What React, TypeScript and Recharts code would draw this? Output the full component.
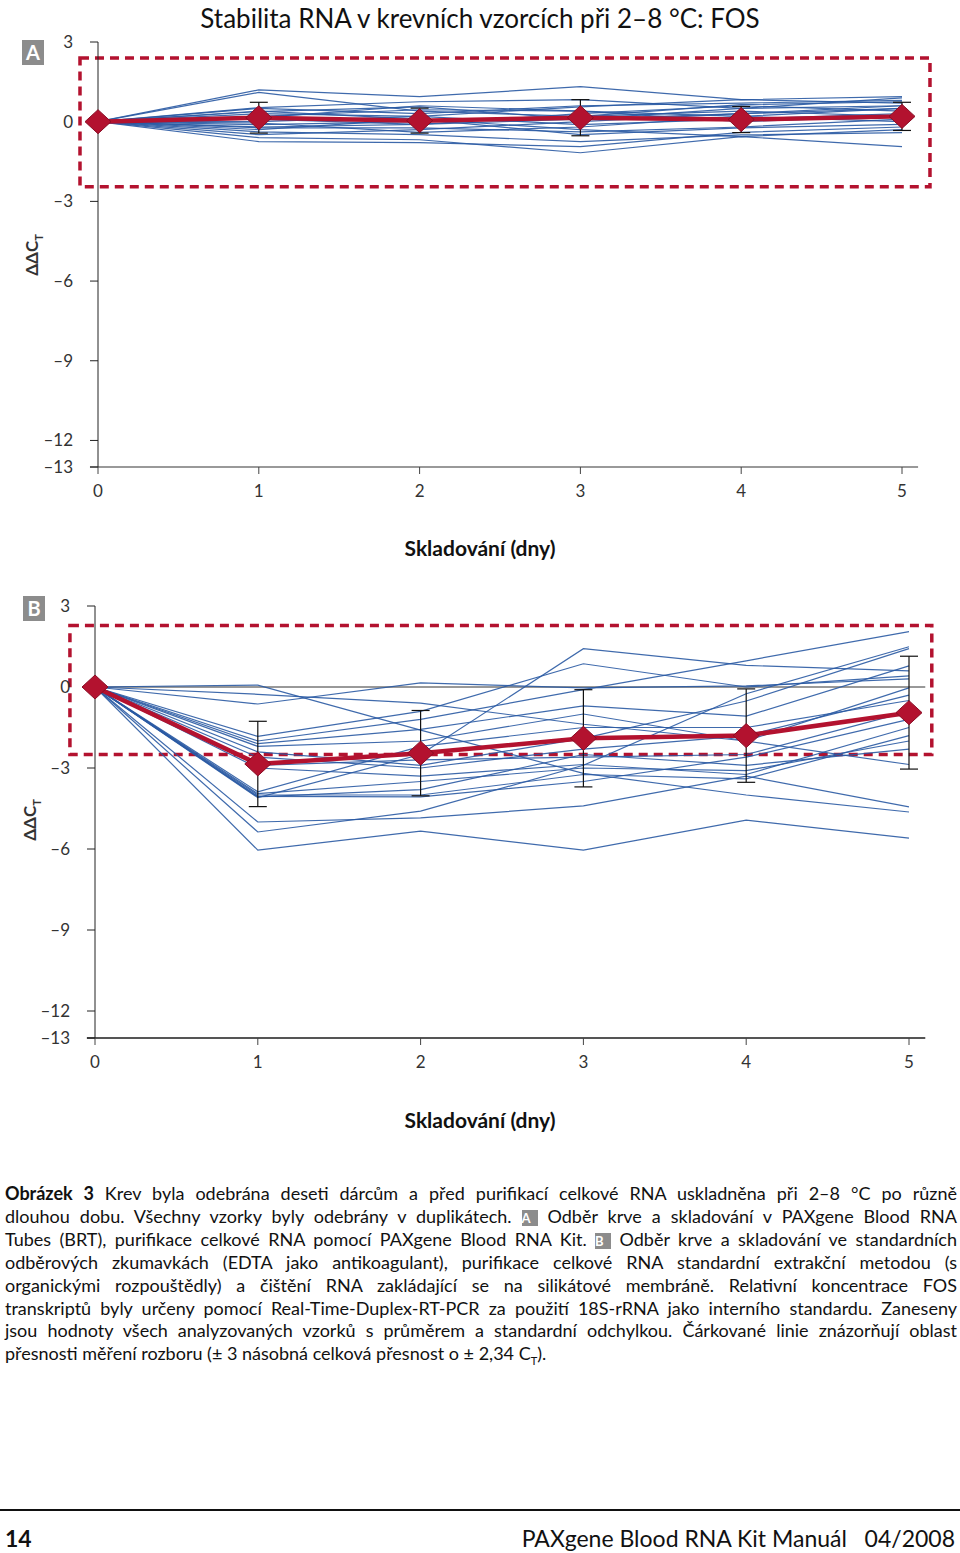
import { LineChart, Line, XAxis, YAxis, ReferenceLine, ReferenceArea, ErrorBar } from 'recharts';

// dny skladování
const days = [0, 1, 2, 3, 4, 5];
const xTicks = [0, 1, 2, 3, 4, 5];
const yTicks = [3, 0, -3, -6, -9, -12, -13];

// A: PAXgene Blood RNA Tubes, jednotlivé vzorky (ΔΔCT den 0..5)
const samplesA: number[][] = [
  [0, 1.2, 0.94, 1.32, 0.83, 0.94],
  [0, 1.1, 0.4, 0.2, 0.64, 0.75],
  [0, 0.53, 0.75, 0.83, 0.5, 0.9],
  [0, 0.38, 0.56, 0.1, 0.3, 0.6],
  [0, 0.3, 0.2, 0.56, 0.83, 0.7],
  [0, 0.2, 0.45, 0.4, 0.2, 0.5],
  [0, 0.1, -0.1, 0.3, 0.6, 0.4],
  [0, 0.0, 0.2, -0.11, 0.1, 0.3],
  [0, -0.11, 0.0, 0.2, 0.4, 0.2],
  [0, -0.23, -0.23, -0.38, -0.2, 0.1],
  [0, -0.3, 0.1, -0.49, -0.23, -0.1],
  [0, -0.38, -0.49, -0.75, -0.5, -0.41],
  [0, -0.49, -0.3, 0.0, 0.3, 0.5],
  [0, -0.6, -0.68, -1.17, -0.56, -0.94],
  [0, -0.75, -0.79, -0.94, -0.4, -0.2],
  [0, 0.5, 0.3, 0.6, 0.7, 0.8],
  [0, 0.15, 0.6, 0.4, 0.0, 0.2],
  [0, -0.05, -0.4, -0.2, 0.2, 0.0],
  [0, 0.4, 0.1, -0.3, -0.56, -0.3],
  [0, -0.2, -0.1, 0.1, 0.5, 0.6],
];
const meanA = [0, 0.15, 0.04, 0.15, 0.08, 0.2];
const sdA = [null, 0.58, 0.47, 0.68, 0.49, 0.53];
const boxA = { x1: -0.112, x2: 5.174, y1: -2.45, y2: 2.4 };

// B: EDTA zkumavky
const samplesB: number[][] = [
  [0, 0.07, -1.6, -3.2, -4.0, -4.63],
  [0, -0.63, 0.15, -0.03, 0.04, 0.3],
  [0, -0.27, -0.6, -1.38, -2.0, -2.87],
  [0, -1.83, -0.9, 0.86, 0.0, 0.41],
  [0, -2.0, -1.2, -0.1, 0.97, 2.05],
  [0, -2.1, -1.57, -0.7, -1.08, 0.78],
  [0, -2.2, -2.0, -1.0, -2.0, -0.03],
  [0, -2.4, -2.9, -1.9, -0.52, 1.42],
  [0, -2.6, -3.0, -2.3, -1.8, -0.3],
  [0, -2.9, -2.7, -2.6, -2.5, -0.9],
  [0, -3.0, -3.3, -2.87, -3.24, -1.5],
  [0, -3.88, -2.2, -1.5, -1.5, -0.5],
  [0, -3.95, -3.5, -3.0, -3.1, -2.0],
  [0, -4.0, -4.0, -3.24, -3.4, -1.8],
  [0, -4.05, -4.07, -3.5, -2.6, -1.2],
  [0, -4.07, -3.8, -2.5, -2.9, -2.3],
  [0, -4.1, -2.5, 1.42, 0.8, 0.6],
  [0, -6.04, -5.34, -6.04, -4.93, -5.6],
  [0, -5.37, -4.6, -2.9, -0.25, 1.49],
  [0, -5.0, -4.85, -4.4, -3.3, -4.44],
];
const meanB = [0, -2.85, -2.45, -1.9, -1.8, -0.95];
const sdB = [null, 1.58, 1.58, 1.8, 1.73, 2.09];
const boxB = { x1: -0.154, x2: 5.14, y1: -2.5, y2: 2.28 };

const FONT = 'Lato, "Open Sans", sans-serif';
const RED = '#b3122f';
const BLUE = '#2a5aa3';

function toRows(samples: number[][], mean: number[], sd: (number | null)[]) {
  return days.map((d, i) => {
    const row: Record<string, number | null> = { day: d, mean: mean[i], sd: sd[i] };
    samples.forEach((s, j) => {
      row['s' + j] = s[i];
    });
    return row;
  });
}

const fmtY = (v: number) => (v < 0 ? '\u2013' + Math.abs(v) : String(v));

const Diamond = (props: any) => {
  const { cx, cy, index } = props;
  if (cx == null || cy == null) return <g key={'e' + index} />;
  const rx = 13;
  const ry = 12;
  return (
    <polygon
      key={'d' + index}
      points={`${cx},${cy - ry} ${cx + rx},${cy} ${cx},${cy + ry} ${cx - rx},${cy}`}
      fill={RED}
      stroke="#8a0c24"
      strokeWidth={1}
    />
  );
};

interface PanelProps {
  data: Record<string, number | null>[];
  count: number;
  top: number;
  axisLeft: number;
  rightMargin: number;
  topMargin: number;
  xAxisHeight: number;
  box: { x1: number; x2: number; y1: number; y2: number };
  baseColor: string;
  zeroLine: boolean;
}

function Panel({ data, count, top, axisLeft, rightMargin, topMargin, xAxisHeight, box, baseColor, zeroLine }: PanelProps) {
  return (
    <div style={{ position: 'absolute', left: 0, top }}>
      <LineChart width={960} height={560} data={data} margin={{ top: topMargin, right: rightMargin, left: 0, bottom: 0 }}>
        <XAxis
          dataKey="day"
          type="number"
          domain={[0, 5]}
          ticks={xTicks}
          axisLine={false}
          tickLine={{ stroke: '#444' }}
          tickSize={7}
          tickMargin={11}
          height={xAxisHeight}
          tick={{ fill: '#333', fontSize: 17, fontFamily: FONT }}
        />
        <YAxis
          type="number"
          domain={[-13, 3]}
          ticks={yTicks}
          interval={0}
          width={axisLeft}
          axisLine={{ stroke: '#222' }}
          tickLine={{ stroke: '#222' }}
          tickSize={8}
          tickMargin={17}
          tickFormatter={fmtY}
          tick={{ fill: '#333', fontSize: 17, fontFamily: FONT }}
        />
        <ReferenceLine
          segment={[{ x: -0.05, y: -13 }, { x: 5.1, y: -13 }]}
          stroke={baseColor}
          strokeWidth={2}
          ifOverflow="visible"
        />
        {zeroLine && (
          <ReferenceLine
            segment={[{ x: 0, y: 0 }, { x: 5.1, y: 0 }]}
            stroke="#333"
            strokeWidth={1}
            ifOverflow="visible"
          />
        )}
        {Array.from({ length: count }, (_, j) => (
          <Line
            key={'s' + j}
            dataKey={'s' + j}
            stroke={BLUE}
            strokeWidth={1.2}
            strokeOpacity={0.9}
            dot={false}
            activeDot={false}
            isAnimationActive={false}
          />
        ))}
        <ReferenceArea
          x1={box.x1}
          x2={box.x2}
          y1={box.y1}
          y2={box.y2}
          fill="none"
          fillOpacity={0}
          stroke={RED}
          strokeWidth={3.5}
          strokeDasharray="9 6"
          ifOverflow="visible"
        />
        <Line
          dataKey="mean"
          stroke={RED}
          strokeWidth={4.5}
          dot={Diamond}
          activeDot={false}
          isAnimationActive={false}
        >
          <ErrorBar dataKey="sd" width={9} stroke="#111" strokeWidth={1.2} direction="y" />
        </Line>
      </LineChart>
    </div>
  );
}

const badgeStyle = (size: number): React.CSSProperties => ({
  display: 'inline-block',
  width: size,
  height: size,
  background: '#8c8c8c',
  color: '#fff',
  fontWeight: 700,
  fontSize: size - 3,
  lineHeight: size + 'px',
  textAlign: 'center',
  fontFamily: FONT,
});

function AxisTitle({ left, top }: { left: number; top: number }) {
  return (
    <div
      style={{
        position: 'absolute',
        left,
        top,
        transform: 'translate(-50%, -50%) rotate(-90deg)',
        fontFamily: FONT,
        fontSize: 17,
        fontWeight: 700,
        color: '#333',
        whiteSpace: 'nowrap',
      }}
    >
      ΔΔC<sub style={{ fontSize: 11 }}>T</sub>
    </div>
  );
}

function XTitle({ top }: { top: number }) {
  return (
    <div
      style={{
        position: 'absolute',
        left: 0,
        width: 960,
        top,
        textAlign: 'center',
        fontFamily: FONT,
        fontSize: 21,
        fontWeight: 700,
        color: '#111',
        lineHeight: '26px',
      }}
    >
      Skladování (dny)
    </div>
  );
}

const captionLines: React.ReactNode[] = [
  <>
    <b>Obrázek 3</b> Krev byla odebrána deseti dárcům a před purifikací celkové RNA uskladněna při 2–8 °C po různě
  </>,
  <>
    dlouhou dobu. Všechny vzorky byly odebrány v duplikátech. <span style={badgeStyle(16)}>A</span> Odběr krve a skladování v PAXgene Blood RNA
  </>,
  <>
    Tubes (BRT), purifikace celkové RNA pomocí PAXgene Blood RNA Kit. <span style={badgeStyle(16)}>B</span> Odběr krve a skladování ve standardních
  </>,
  <>odběrových zkumavkách (EDTA jako antikoagulant), purifikace celkové RNA standardní extrakční metodou (s</>,
  <>organickými rozpouštědly) a čištění RNA zakládající se na silikátové membráně. Relativní koncentrace FOS</>,
  <>transkriptů byly určeny pomocí Real-Time-Duplex-RT-PCR za použití 18S-rRNA jako interního standardu. Zaneseny</>,
  <>jsou hodnoty všech analyzovaných vzorků s průměrem a standardní odchylkou. Čárkované linie znázorňují oblast</>,
  <>
    přesnosti měření rozboru (± 3 násobná celková přesnost o ± 2,34 C<sub style={{ fontSize: 11 }}>T</sub>).
  </>,
];

export default function App() {
  const dataA = toRows(samplesA, meanA, sdA);
  const dataB = toRows(samplesB, meanB, sdB);

  return (
    <div style={{ position: 'absolute', left: 0, top: 0, width: 960, height: 1553, background: '#fff', overflow: 'hidden', fontFamily: FONT }}>
      <div
        style={{
          position: 'absolute',
          left: 0,
          width: 960,
          top: 2,
          textAlign: 'center',
          fontSize: 26,
          lineHeight: '32px',
          color: '#111',
        }}
      >
        Stabilita RNA v krevních vzorcích při 2–8 °C: FOS
      </div>

      <div style={{ position: 'absolute', left: 22, top: 40, ...badgeStyle(22), height: 25, lineHeight: '25px', fontSize: 20 }}>A</div>
      <Panel
        data={dataA}
        count={samplesA.length}
        top={0}
        axisLeft={98}
        rightMargin={58}
        topMargin={42}
        xAxisHeight={93}
        box={boxA}
        baseColor="#999"
        zeroLine={false}
      />
      <AxisTitle left={33} top={255} />
      <XTitle top={535} />

      <div style={{ position: 'absolute', left: 23, top: 596, ...badgeStyle(22), height: 25, lineHeight: '25px', fontSize: 20 }}>B</div>
      <Panel
        data={dataB}
        count={samplesB.length}
        top={560}
        axisLeft={95}
        rightMargin={51}
        topMargin={46}
        xAxisHeight={82}
        box={boxB}
        baseColor="#555"
        zeroLine={true}
      />
      <AxisTitle left={31} top={820} />
      <XTitle top={1107} />

      <div style={{ position: 'absolute', left: 5, top: 1182, width: 952, fontSize: 18, lineHeight: '22.9px', color: '#111' }}>
        {captionLines.map((ln, i) => (
          <div
            key={i}
            style={{
              textAlign: 'justify',
              textAlignLast: i === captionLines.length - 1 ? 'left' : 'justify',
              whiteSpace: 'normal',
            }}
          >
            {ln}
          </div>
        ))}
      </div>

      <div style={{ position: 'absolute', left: 0, top: 1509, width: 960, height: 2, background: '#111' }} />
      <div style={{ position: 'absolute', left: 5, top: 1524, fontSize: 23, fontWeight: 700, color: '#111', lineHeight: '28px' }}>14</div>
      <div style={{ position: 'absolute', right: 5, top: 1524, fontSize: 23, color: '#111', lineHeight: '28px', whiteSpace: 'pre' }}>
        PAXgene Blood RNA Kit Manuál   04/2008
      </div>
    </div>
  );
}
